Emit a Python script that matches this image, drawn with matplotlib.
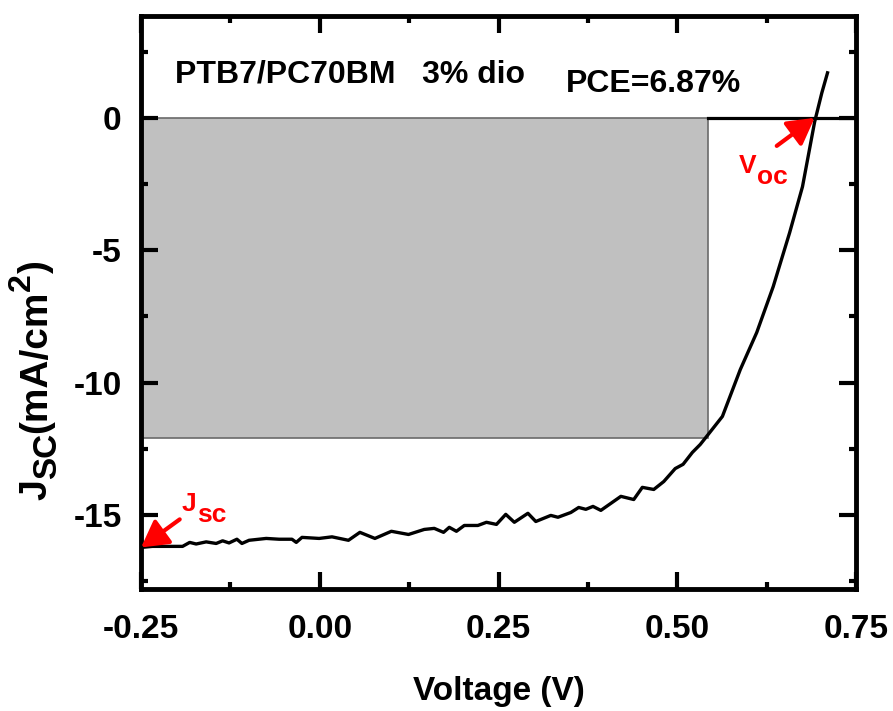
import matplotlib
matplotlib.use("Agg")
import matplotlib.pyplot as plt
from matplotlib.patches import Rectangle
from matplotlib.ticker import MultipleLocator

plt.rcParams["font.family"] = ["Liberation Sans", "DejaVu Sans"]
plt.rcParams["font.weight"] = "bold"
plt.rcParams["axes.labelweight"] = "bold"
plt.rcParams["axes.unicode_minus"] = False

# J-V curve
voltage = [-0.250, -0.234, -0.192, -0.182, -0.173, -0.159, -0.145, -0.136, -0.127, -0.116,
           -0.109, -0.099, -0.075, -0.057, -0.039, -0.033, -0.025, -0.001, 0.017, 0.040,
           0.056, 0.077, 0.100, 0.124, 0.146, 0.160, 0.173, 0.181, 0.191, 0.202,
           0.221, 0.233, 0.247, 0.260, 0.272, 0.291, 0.302, 0.323, 0.333, 0.351,
           0.362, 0.372, 0.382, 0.393, 0.421, 0.439, 0.451, 0.467, 0.481, 0.497,
           0.508, 0.521, 0.532, 0.542, 0.563, 0.588, 0.611, 0.634, 0.657, 0.675,
           0.692, 0.702, 0.710]
current = [-16.23, -16.19, -16.19, -16.04, -16.10, -16.02, -16.08, -15.98, -16.06, -15.92,
           -16.08, -15.96, -15.89, -15.92, -15.92, -16.04, -15.85, -15.89, -15.83, -15.96,
           -15.66, -15.89, -15.62, -15.74, -15.55, -15.51, -15.66, -15.47, -15.62, -15.40,
           -15.40, -15.28, -15.36, -14.98, -15.28, -14.94, -15.25, -15.02, -15.09, -14.91,
           -14.72, -14.79, -14.68, -14.83, -14.30, -14.42, -13.96, -14.04, -13.74, -13.25,
           -13.09, -12.64, -12.34, -12.00, -11.28, -9.51, -8.11, -6.38, -4.34, -2.60,
           -0.15, 0.94, 1.70]

v_start = -0.25
v_mp = 0.543
j_mp = -12.1
v_oc = 0.692
j_sc = -16.23

x_ticks = [-0.25, 0.0, 0.25, 0.5, 0.75]
x_labels = ["-0.25", "0.00", "0.25", "0.50", "0.75"]
y_ticks = [-15, -10, -5, 0]
y_labels = ["-15", "-10", "-5", "0"]

fig = plt.figure(figsize=(8.93, 7.11), dpi=100)
ax = fig.add_axes([0.158, 0.1716, 0.8007, 0.806])

# max power rectangle
ax.add_patch(Rectangle((v_start, j_mp), v_mp - v_start, -j_mp,
                       facecolor="#c0c0c0", edgecolor="#6a6a6a", lw=1.2, zorder=1))
ax.plot([v_mp, 0.75], [0, 0], color="black", lw=2.3, zorder=2)
ax.plot(voltage, current, color="black", lw=2.4, zorder=3)

ax.set_xlim(-0.25, 0.75)
ax.set_ylim(-17.8, 3.85)
ax.set_xticks(x_ticks)
ax.set_xticklabels(x_labels)
ax.set_yticks(y_ticks)
ax.set_yticklabels(y_labels)
ax.xaxis.set_minor_locator(MultipleLocator(0.125))
ax.yaxis.set_minor_locator(MultipleLocator(2.5))
ax.tick_params(which="both", direction="in", top=True, right=True, width=3,
               labelsize=24)
ax.tick_params(axis="x", pad=18)
ax.tick_params(axis="y", pad=14)
ax.tick_params(which="major", length=12)
ax.tick_params(which="minor", length=5)
for s in ax.spines.values():
    s.set_linewidth(3.5)

ax.set_xlabel("Voltage (V)", fontsize=24)
ax.xaxis.set_label_coords(0.5, -0.152)

# y label built from pieces so sub/superscripts keep a large size
prev = ax.text(-0.147, 0.155, "J", transform=ax.transAxes, rotation=90,
               ha="center", va="bottom", fontsize=27)
for txt, size, dx in [("SC", 24, 8), ("(mA/cm", 28, -8), ("2", 23, -10), (")", 28, 10)]:
    prev = ax.annotate(txt, xy=(0.5, 1), xycoords=prev, xytext=(dx, 0),
                       textcoords="offset points", rotation=90,
                       ha="center", va="bottom", fontsize=size)

ax.text(-0.203, 1.32, "PTB7/PC70BM   3% dio", fontsize=23, ha="left", va="baseline")
ax.text(0.344, 0.98, "PCE=6.87%", fontsize=23, ha="left", va="baseline")

red = "#ff0000"
ax.text(-0.193, -14.87, "J", color=red, fontsize=19, ha="left", va="baseline")
ax.text(-0.172, -15.28, "sc", color=red, fontsize=19, ha="left", va="baseline")
ax.text(0.586, -2.08, "V", color=red, fontsize=19, ha="left", va="baseline")
ax.text(0.611, -2.49, "oc", color=red, fontsize=19, ha="left", va="baseline")

arrow = dict(arrowstyle="-|>,head_length=0.8,head_width=0.45", color=red, lw=3,
             mutation_scale=20, shrinkA=0, shrinkB=0)
ax.annotate("", xy=(v_start, j_sc), xytext=(-0.196, -15.17), arrowprops=arrow)
ax.annotate("", xy=(v_oc, 0), xytext=(0.639, -1.06), arrowprops=arrow)

fig.savefig("out.png", dpi=100)
